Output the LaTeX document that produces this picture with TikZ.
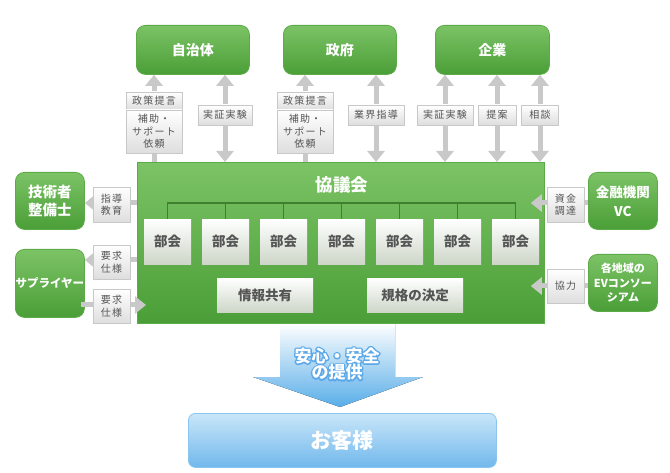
\documentclass[tikz,border=0pt]{standalone}
\usepackage{fontspec}
\setmainfont{Noto Sans CJK JP}
\newfontfamily\lblfont{Noto Sans CJK JP}[LetterSpace=12]
\usetikzlibrary{arrows.meta,calc}
\definecolor{gtop}{HTML}{7CC366}
\definecolor{gbot}{HTML}{4A9E37}
\definecolor{gbord}{HTML}{5DAA48}
\definecolor{treec}{HTML}{3F7F30}
\definecolor{arrg}{HTML}{C9C9C9}
\definecolor{lblbord}{HTML}{C8C8C8}
\definecolor{lblbot}{HTML}{DEDEDE}
\definecolor{txtg}{HTML}{555555}
\definecolor{bukaibot}{HTML}{CDD6C8}
\definecolor{blu}{HTML}{58ADE8}
\definecolor{blumid}{HTML}{9CCFF3}
\definecolor{custtop}{HTML}{C9E6F9}
\definecolor{custbot}{HTML}{71B8EC}
\definecolor{custbord}{HTML}{8CC6F0}
\newcommand{\outlon}{\special{pdf:literal direct 1 Tr 2.8 w 1 j 0.36 0.66 0.91 RG}}
\newcommand{\outloff}{\special{pdf:literal direct 0 Tr}}
\newcommand{\outlined}[1]{\rlap{\outlon #1\outloff}#1}
\tikzset{
  gbox/.style={draw=gbord, line width=0.8pt, rounded corners=9pt, top color=gtop, bottom color=gbot, text=white, align=center, inner sep=0pt, anchor=north west},
  lbl/.style={draw=lblbord, line width=0.8pt, top color=white, bottom color=lblbot, text=txtg, font=\lblfont\fontsize{10}{12.5}\selectfont, align=center, inner sep=0pt},
  bukai/.style={top color=white, bottom color=bukaibot, text=txtg, font=\bfseries\fontsize{13.5}{16}\selectfont, inner sep=0pt, anchor=north west, minimum width=47pt, minimum height=45pt},
  arr/.style={draw=arrg, line width=5pt},
  gtip/.tip={Triangle[width=17pt,length=11pt]},
  treeline/.style={draw=treec, line width=1.5pt},
  whtxt/.style={text=white, font=\bfseries\fontsize{17}{16.5}\selectfont, align=center, inner sep=0pt}
}
\begin{document}
\begin{tikzpicture}[x=1pt,y=-1pt]
\useasboundingbox (0,0) rectangle (670,473);
% top boxes
\node[gbox, minimum width=113pt, minimum height=49pt, font=\bfseries\fontsize{14}{16}\selectfont] (jichi) at (136,25) {自治体};
\node[gbox, minimum width=113pt, minimum height=49pt, font=\bfseries\fontsize{14}{16}\selectfont] (seifu) at (283,25) {政府};
\node[gbox, minimum width=114pt, minimum height=49pt, font=\bfseries\fontsize{14}{16}\selectfont] (kigyo) at (435,25) {企業};
% side boxes
\node[gbox, minimum width=69pt, minimum height=57pt, font=\bfseries\fontsize{14.5}{18}\selectfont] (gijutsu) at (15,172) {技術者\\整備士};
\node[gbox, minimum width=69pt, minimum height=68pt, font=\bfseries\fontsize{11.5}{14}\selectfont] (supp) at (15,249) {サプライヤー};
\node[gbox, minimum width=69pt, minimum height=57pt, font=\bfseries\fontsize{13.5}{19}\selectfont] (kinyu) at (588,172) {金融機関\\VC};
\node[gbox, minimum width=69pt, minimum height=57pt, font=\bfseries\fontsize{11}{14.5}\selectfont] (ev) at (588,254) {各地域の\\EVコンソー\\シアム};
% blue arrow
\fill[top color=white, middle color=blumid, bottom color=blu] (280,323) -- (395,323) -- (395,377) -- (423,377) -- (340,407) -- (253,377) -- (280,377) -- cycle;
\node[whtxt] (anztxt) at (337,364) {\outlined{安心・安全}\\\outlined{の提供}};
% customer
\node[rounded corners=7pt, draw=custbord, line width=0.8pt, top color=custtop, bottom color=custbot, minimum width=308pt, minimum height=54pt, anchor=north west, inner sep=0pt, text=white, font=\bfseries\fontsize{21}{24}\selectfont] (cust) at (188,413) {お客様};
% main box
\node[draw=gbord, line width=0.8pt, top color=gtop, bottom color=gbot, minimum width=407pt, minimum height=161pt, anchor=north west, inner sep=0pt] (main) at (137,162) {};
\node[text=white, font=\bfseries\fontsize{17.5}{20}\selectfont, inner sep=0pt] (title) at (342,185) {協議会};
% bukai
\foreach \i/\x in {1/144,2/202,3/260,4/318,5/376,6/434,7/492}
  \node[bukai] (b\i) at (\x,219) {部会};
\coordinate (treey) at (0,203);
\draw[treeline] (b1.north) -- (b1.north |- treey) -- (b7.north |- treey) -- (b7.north);
\foreach \i in {2,...,6}
  \draw[treeline] (b\i.north) -- (b\i.north |- treey);
\node[bukai, minimum width=96pt, minimum height=34pt] (info) at (217,278) {情報共有};
\node[bukai, minimum width=96pt, minimum height=34pt] (kikaku) at (367,278) {規格の決定};
% coordinates for arrows
\coordinate (c1) at (154,0);
\coordinate (c2) at (225,0);
\coordinate (c3) at (305,0);
\coordinate (c4) at (376,0);
\coordinate (c5) at (445,0);
\coordinate (c6) at (497,0);
\coordinate (c7) at (540,0);
\coordinate (r1) at (0,203);
\coordinate (r2) at (0,260);
\coordinate (r3) at (0,305);
\coordinate (r4) at (0,203);
\coordinate (r5) at (0,286);
% top arrows
\draw[arr,-{gtip}] (main.north -| c1) -- (jichi.south -| c1);
\draw[arr,{gtip}-{gtip}] (main.north -| c2) -- (jichi.south -| c2);
\draw[arr,-{gtip}] (main.north -| c3) -- (seifu.south -| c3);
\draw[arr,{gtip}-{gtip}] (main.north -| c4) -- (seifu.south -| c4);
\draw[arr,{gtip}-{gtip}] (main.north -| c5) -- (kigyo.south -| c5);
\draw[arr,{gtip}-{gtip}] (main.north -| c6) -- (kigyo.south -| c6);
\draw[arr,{gtip}-{gtip}] (main.north -| c7) -- (kigyo.south -| c7);
% side arrows
\draw[arr,-{gtip}] (main.west |- r1) -- (gijutsu.east |- r1);
\draw[arr,-{gtip}] (main.west |- r2) -- (supp.east |- r2);
\draw[arr,-{gtip}] ($(supp.east |- r3)+(-4,0)$) -- ($(main.west |- r3)+(9,0)$);
\draw[arr,-{gtip}] (kinyu.west |- r4) -- ($(main.east |- r4)+(-14,0)$);
\draw[arr,-{gtip}] (ev.west |- r5) -- ($(main.east |- r5)+(-14,0)$);
% labels
\node[lbl, minimum width=56pt, minimum height=18pt] (l1a) at (154,101) {政策提言};
\node[lbl, minimum width=56pt, minimum height=43pt] (l1b) at (154,131.5) {補助・\\サポート\\依頼};
\node[lbl, minimum width=54pt, minimum height=20pt] (l2) at (225,115) {実証実験};
\node[lbl, minimum width=56pt, minimum height=18pt] (l3a) at (305,101) {政策提言};
\node[lbl, minimum width=56pt, minimum height=43pt] (l3b) at (305,131.5) {補助・\\サポート\\依頼};
\node[lbl, minimum width=56pt, minimum height=20pt] (l4) at (376,115) {業界指導};
\node[lbl, minimum width=56pt, minimum height=20pt] (l5) at (445,115) {実証実験};
\node[lbl, minimum width=38pt, minimum height=20pt] (l6) at (497,115) {提案};
\node[lbl, minimum width=37pt, minimum height=20pt] (l7) at (540,115) {相談};
\node[lbl, minimum width=37pt, minimum height=35pt] (l8) at (111.5,204.5) {指導\\教育};
\node[lbl, minimum width=37pt, minimum height=34pt] (l9) at (111.5,262) {要求\\仕様};
\node[lbl, minimum width=37pt, minimum height=34pt] (l10) at (111.5,306) {要求\\仕様};
\node[lbl, minimum width=37pt, minimum height=35pt] (l11) at (565.5,204.5) {資金\\調達};
\node[lbl, minimum width=37pt, minimum height=34pt] (l12) at (565.5,286) {協力};
\end{tikzpicture}
\end{document}
